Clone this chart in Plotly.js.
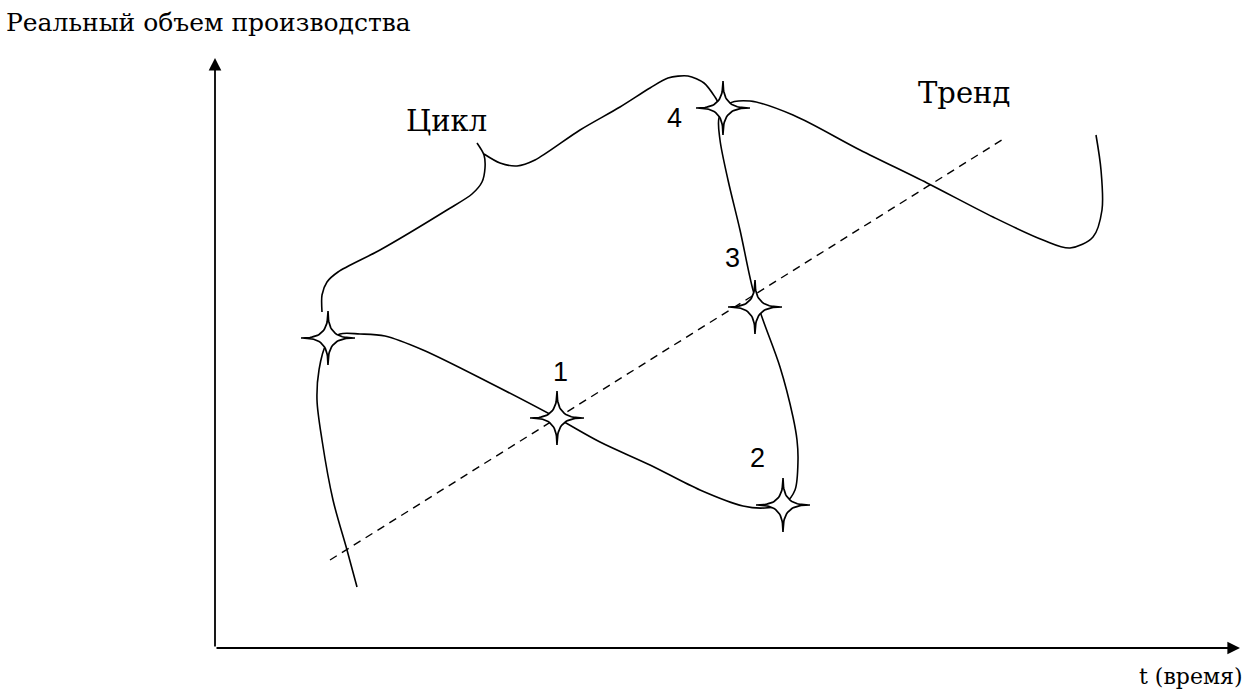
<!DOCTYPE html>
<html>
<head>
<meta charset="utf-8">
<script src="https://cdn.plot.ly/plotly-3.0.1.min.js"></script>
<style>html,body{margin:0;padding:0;background:#fff;}#chart{width:1248px;height:691px;}</style>
</head>
<body>
<div id="chart"></div>
<script>
// Business cycle curve (output over time)
var cycleX = [357,347,333,322,317,319,326,340,360,385,423,490,557,600,650,700,743,765,785,795,798,797,793,780,763,753,740,728,720,719,728,750,793,860,927,993,1043,1070,1093,1102,1101,1096];
var cycleY = [587,550,500,440,400,370,345,334,334,336,350,383,418,442,465,490,506,508,503,490,460,440,417,367,320,290,230,180,140,118,104,101,115,150,183,217,240,248,237,210,170,135];

// Trend line
var trendX = [330,1005];
var trendY = [560,138];

// Brace marking one cycle (left arm and right arm)
var braceLX = [322,322,327,338,380,447,472,482,485,484,477];
var braceLY = [312,295,282,272,250,210,194,182,168,155,143];
var braceRX = [484,500,517,535,580,620,650,668,688,704,715,721];
var braceRY = [154,163,166,160,130,107,88,78,76,83,97,108];

// Marked points on the cycle
var starX = [328,557,783,755,723];
var starY = [338,418,505,307,108];

// Phase numbers
var numLabels = ['1','2','3','4'];
var numX = [560,757,732,674];
var numY = [372,458,258,118];

var traces = [
  {x:trendX, y:trendY, mode:'lines', line:{color:'#000', width:1.4, dash:'8px,6px'}, hoverinfo:'skip'},
  {x:cycleX, y:cycleY, mode:'lines', line:{color:'#000', width:1.6, shape:'spline', smoothing:0.9}, hoverinfo:'skip'},
  {x:braceLX, y:braceLY, mode:'lines', line:{color:'#000', width:1.6, shape:'spline', smoothing:0.8}, hoverinfo:'skip'},
  {x:braceRX, y:braceRY, mode:'lines', line:{color:'#000', width:1.6, shape:'spline', smoothing:0.8}, hoverinfo:'skip'}
];

// four-pointed star glyph drawn around each marked point (glyph geometry only)
var STAR_R = 27, STAR_P = 4.4, STAR_N = 120;
function starOutline(cx, cy) {
  var xs = [], ys = [];
  for (var k = 0; k <= STAR_N; k++) {
    var t = 2 * Math.PI * k / STAR_N;
    var c = Math.cos(t), s = Math.sin(t);
    xs.push(cx + STAR_R * Math.sign(c) * Math.pow(Math.abs(c), STAR_P));
    ys.push(cy + STAR_R * Math.sign(s) * Math.pow(Math.abs(s), STAR_P));
  }
  return {x: xs, y: ys};
}
for (var j = 0; j < starX.length; j++) {
  var o = starOutline(starX[j], starY[j]);
  traces.push({x:o.x, y:o.y, mode:'lines', fill:'toself', fillcolor:'#fff', line:{color:'#000', width:1.7}, hoverinfo:'skip'});
}

var annotations = [
  // axes with arrowheads
  {x:215, y:58, ax:215, ay:648, xref:'x', yref:'y', axref:'x', ayref:'y', showarrow:true, arrowhead:2, arrowsize:1.4, arrowwidth:1.8, arrowcolor:'#000', text:''},
  {x:1240, y:648, ax:215, ay:648, xref:'x', yref:'y', axref:'x', ayref:'y', showarrow:true, arrowhead:2, arrowsize:1.4, arrowwidth:1.8, arrowcolor:'#000', text:''},
  {x:4, y:22, xref:'x', yref:'y', xanchor:'left', yanchor:'middle', showarrow:false, text:'Реальный объем производства', font:{family:'DejaVu Serif', size:25, color:'#000'}},
  {x:1244, y:676, xref:'x', yref:'y', xanchor:'right', yanchor:'middle', showarrow:false, text:'t (время)', font:{family:'DejaVu Serif', size:22, color:'#000'}},
  {x:404, y:121, xref:'x', yref:'y', xanchor:'left', yanchor:'middle', showarrow:false, text:'Цикл', font:{family:'DejaVu Serif', size:29, color:'#000'}},
  {x:916, y:93, xref:'x', yref:'y', xanchor:'left', yanchor:'middle', showarrow:false, text:'Тренд', font:{family:'DejaVu Serif', size:29, color:'#000'}}
];
for (var i = 0; i < numLabels.length; i++) {
  annotations.push({x:numX[i], y:numY[i], xref:'x', yref:'y', xanchor:'center', yanchor:'middle', showarrow:false, text:numLabels[i], font:{family:'Liberation Sans', size:27, color:'#000'}});
}

var layout = {
  width:1248, height:691,
  margin:{l:0, r:0, t:0, b:0},
  paper_bgcolor:'#fff', plot_bgcolor:'#fff',
  showlegend:false,
  xaxis:{range:[0,1248], visible:false, fixedrange:true},
  yaxis:{range:[691,0], visible:false, fixedrange:true},
  annotations:annotations
};

Plotly.newPlot('chart', traces, layout, {staticPlot:true});
</script>
</body>
</html>
